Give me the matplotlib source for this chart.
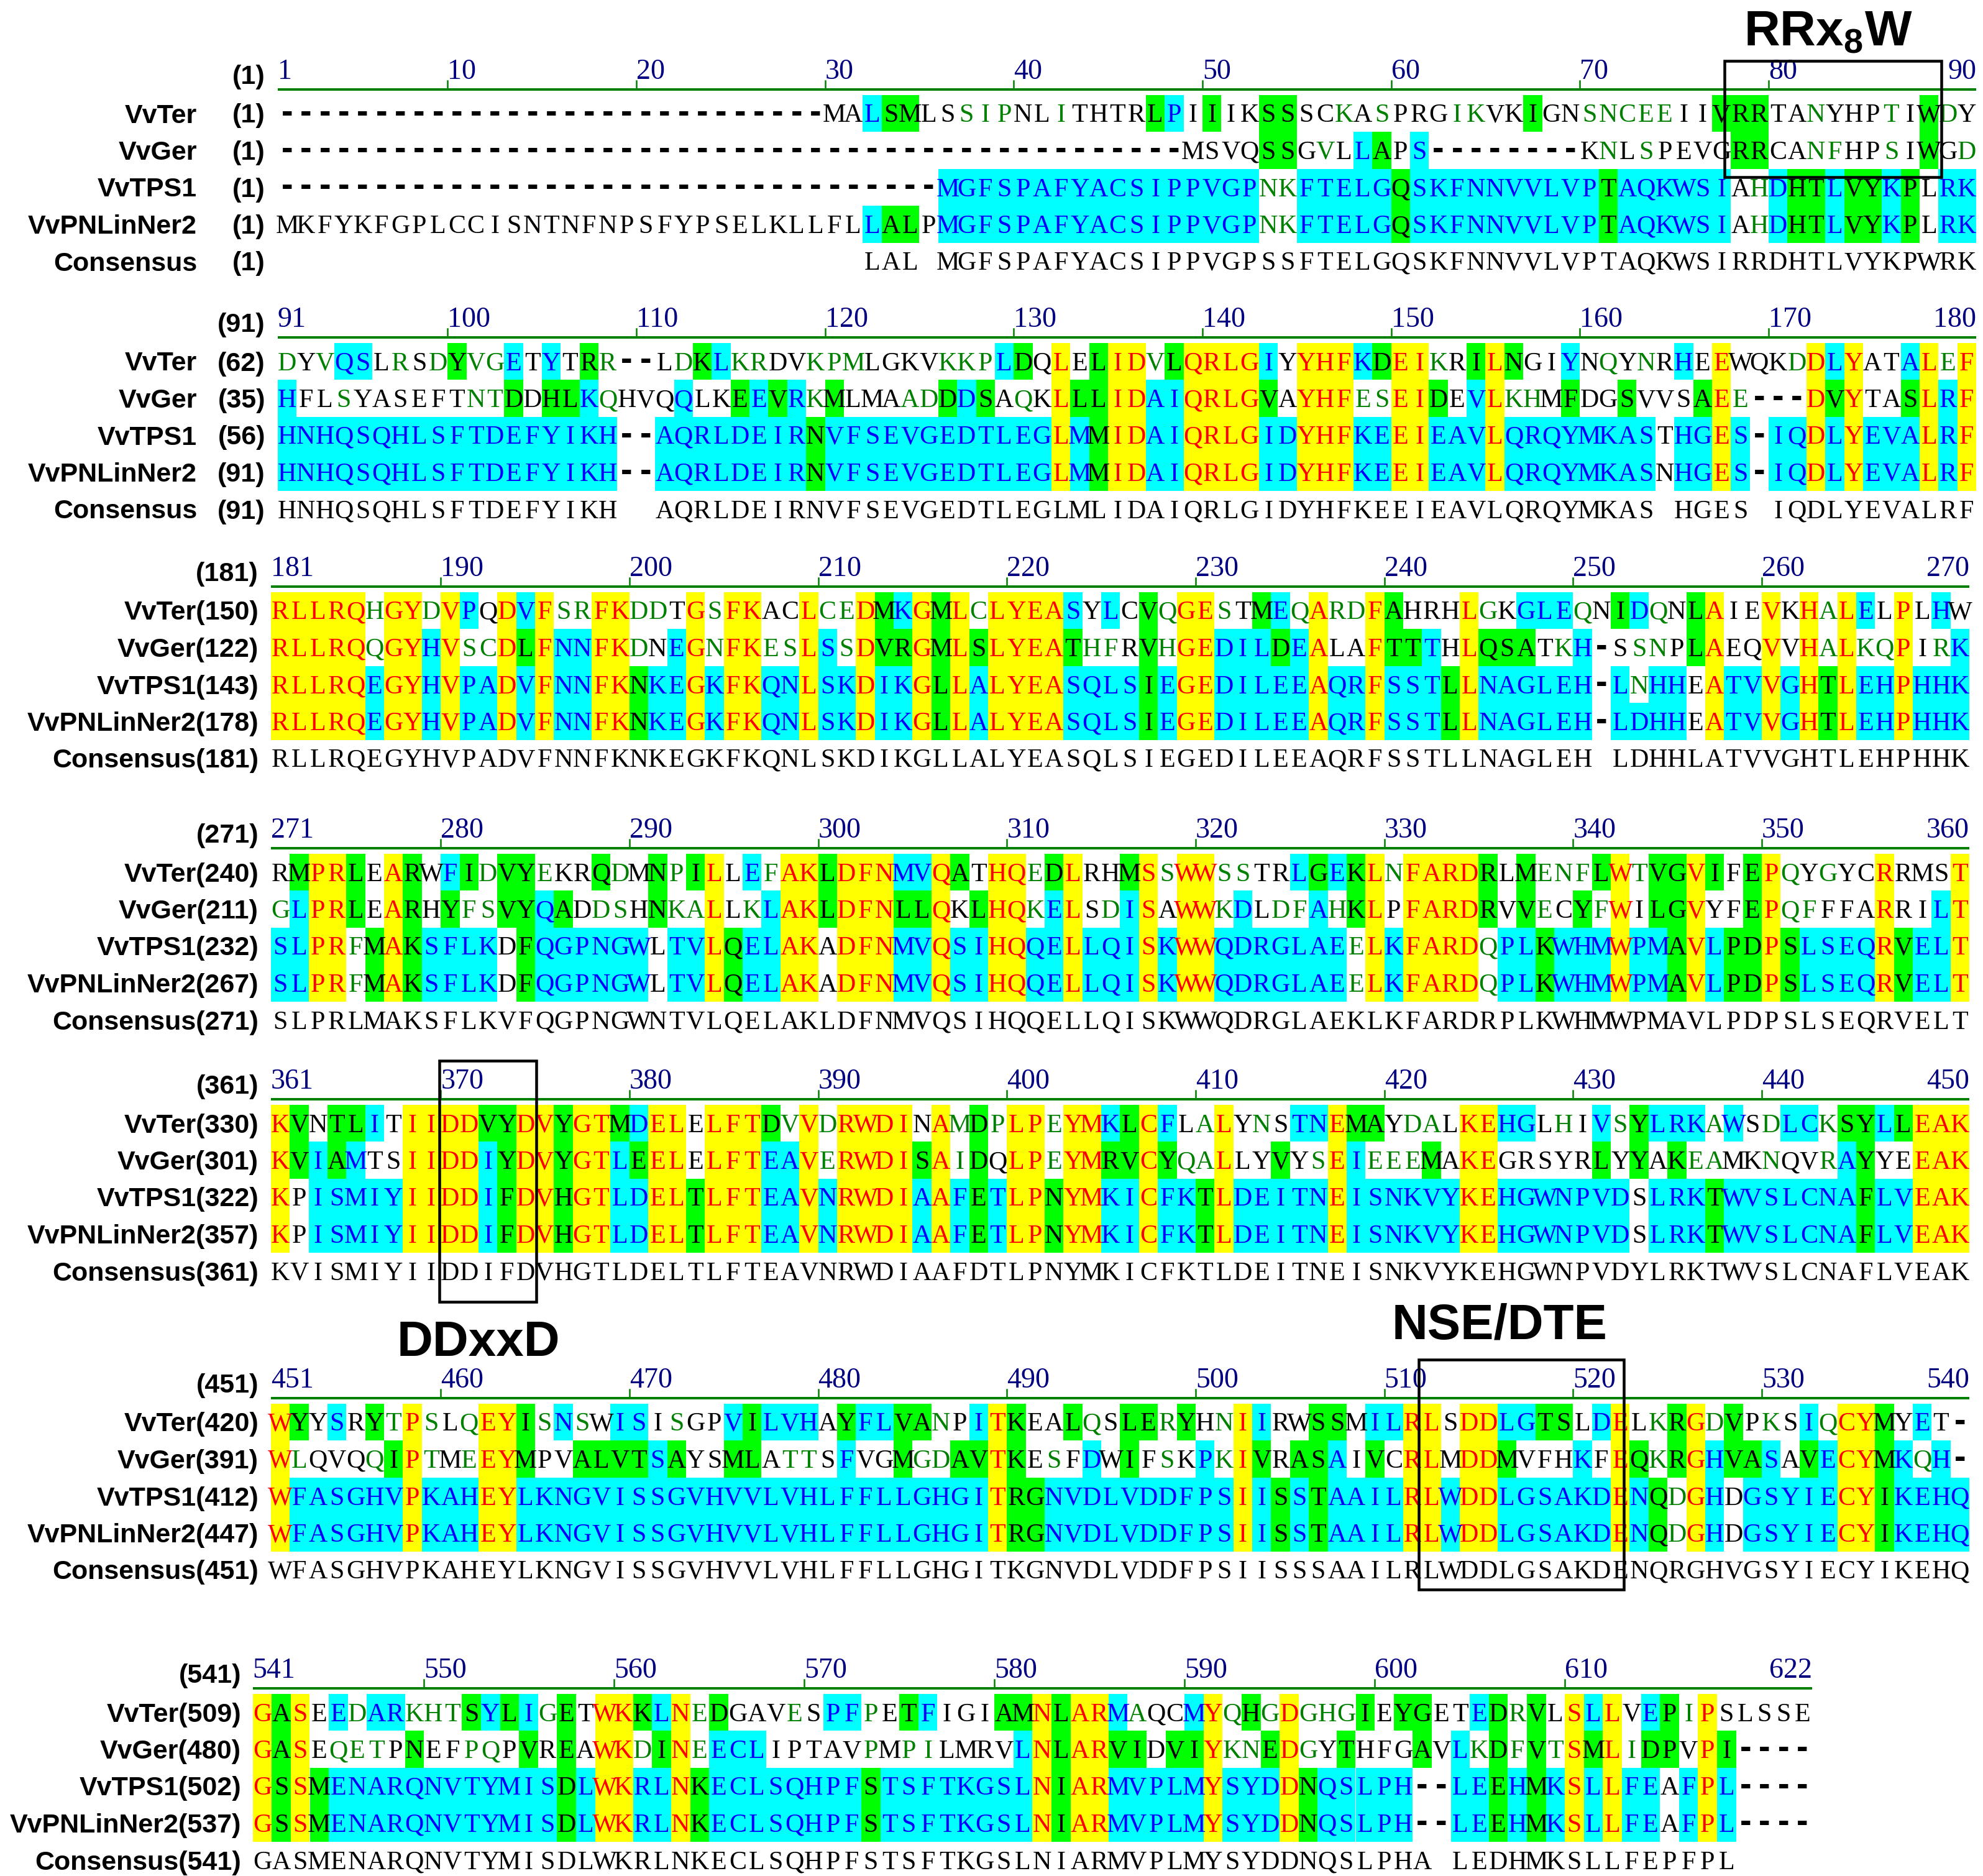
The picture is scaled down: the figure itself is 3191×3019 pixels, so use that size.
import matplotlib
matplotlib.use("Agg")
import matplotlib.pyplot as plt
from matplotlib import font_manager
from matplotlib.font_manager import FontProperties
from matplotlib.patches import Rectangle

plt.rcParams["mathtext.default"] = "regular"

names = ["VvTer", "VvGer", "VvTPS1", "VvPNLinNer2", "Consensus"]

# alignment, one string per block of 90 columns (last block 82)
vvter = [
    "-" * 29 + "MALSMLSSIPNLITHTRLPIIIKSSSCKASPRGIKVKIGNSNCEEIIVRRTANYHPTIWDY",
    "DYVQSLRSDYVGETYTRR--LDKLKRDVKPMLGKVKKPLDQLELIDVLQRLGIYYHFKDEIKRILNGIYNQYNRHEEWQKDDLYATALEF",
    "RLLRQHGYDVPQDVFSRFKDDTGSFKACLCEDMKGMLCLYEASYLCVQGESTMEQARDFAHRHLGKGLEQNIDQNLAIEVKHALELPLHW",
    "RMPRLEARWFIDVYEKRQDMNPILLEFAKLDFNMVQATHQEDLRHMSSWWSSTRLGEKLNFARDRLMENFLWTVGVIFEPQYGYCRRMST",
    "KVNTLITIIDDVYDVYGTMDELELFTDVVDRWDINAMDPLPEYMKLCFLALYNSTNEMAYDALKEHGLHIVSYLRKAWSDLCKSYLLEAK",
    "WYYSRYTPSLQEYISNSWISISGPVILVHAYFLVANPITKEALQSLERYHNIIRWSSMILRLSDDLGTSLDELKRGDVPKSIQCYMYET-",
    "GASEEDARKHTSYLIGETWKKLNEDGAVESPFPETFIGIAMNLARMAQCMYQHGDGHGIEYGETEDRVLSLLVEPIPSLSSE",
]
vvger = [
    "-" * 48 + "MSVQSSGVLLAPS" + "-" * 8 + "KNLSPEVGRRCANFHPSIWGD",
    "HFLSYASEFTNTDDHLKQHVQQLKEEVRKMLMAADDDSAQKLLLIDAIQRLGVAYHFESEIDEVLKHMFDGSVVSAEE---DVYTASLRF",
    "RLLRQQGYHVSCDLFNNFKDNEGNFKESLSSDVRGMLSLYEATHFRVHGEDILDEALAFTTTHLQSATKH-SSNPLAEQVVHALKQPIRK",
    "GLPRLEARHYFSVYQADDSHNKALLKLAKLDFNLLQKLHQKELSDISAWWKDLDFAHKLPFARDRVVECYFWILGVYFEPQFFFARRILT",
    "KVIAMTSIIDDIYDVYGTLEELELFTEAVERWDISAIDQLPEYMRVCYQALLYVYSEIEEEMAKEGRSYRLYYAKEAMKNQVRAYYEEAK",
    "WLQVQQIPTMEEYMPVALVTSAYSMLATTSFVGMGDAVTKESFDWIFSKPKIVRASAIVCRLMDDMVFHKFEQKRGHVASAVECYMKQH-",
    "GASEQETPNEFPQPVREAWKDINEECLIPTAVPMPILMRVLNLARVIDVIYKNEDGYTHFGAVLKDFVTSMLIDPVPI----",
]
vvtps1 = [
    "-" * 35 + "MGFSPAFYACSIPPVGPNKFTELGQSKFNNVVLVPTAQKWSIAHDHTLVYKPLRK",
    "HNHQSQHLSFTDEFYIKH--AQRLDEIRNVFSEVGEDTLEGLMMIDAIQRLGIDYHFKEEIEAVLQRQYMKASTHGES-IQDLYEVALRF",
    "RLLRQEGYHVPADVFNNFKNKEGKFKQNLSKDIKGLLALYEASQLSIEGEDILEEAQRFSSTLLNAGLEH-LNHHEATVVGHTLEHPHHK",
    "SLPRFMAKSFLKDFQGPNGWLTVLQELAKADFNMVQSIHQQELLQISKWWQDRGLAEELKFARDQPLKWHMWPMAVLPDPSLSEQRVELT",
    "KPISMIYIIDDIFDVHGTLDELTLFTEAVNRWDIAAFETLPNYMKICFKTLDEITNEISNKVYKEHGWNPVDSLRKTWVSLCNAFLVEAK",
    "WFASGHVPKAHEYLKNGVISSGVHVVLVHLFFLLGHGITRGNVDLVDDFPSIISSTAAILRLWDDLGSAKDENQDGHDGSYIECYIKEHQ",
    "GSSMENARQNVTYMISDLWKRLNKECLSQHPFSTSFTKGSLNIARMVPLMYSYDDNQSLPH--LEEHMKSLLFEAFPL----",
]
vvpnlinner2 = [
    "MKFYKFGPLCCISNTNFNPSFYPSELKLLFLLALPMGFSPAFYACSIPPVGPNKFTELGQSKFNNVVLVPTAQKWSIAHDHTLVYKPLRK",
    "HNHQSQHLSFTDEFYIKH--AQRLDEIRNVFSEVGEDTLEGLMMIDAIQRLGIDYHFKEEIEAVLQRQYMKASNHGES-IQDLYEVALRF",
    "RLLRQEGYHVPADVFNNFKNKEGKFKQNLSKDIKGLLALYEASQLSIEGEDILEEAQRFSSTLLNAGLEH-LDHHEATVVGHTLEHPHHK",
    "SLPRFMAKSFLKDFQGPNGWLTVLQELAKADFNMVQSIHQQELLQISKWWQDRGLAEELKFARDQPLKWHMWPMAVLPDPSLSEQRVELT",
    "KPISMIYIIDDIFDVHGTLDELTLFTEAVNRWDIAAFETLPNYMKICFKTLDEITNEISNKVYKEHGWNPVDSLRKTWVSLCNAFLVEAK",
    "WFASGHVPKAHEYLKNGVISSGVHVVLVHLFFLLGHGITRGNVDLVDDFPSIISSTAAILRLWDDLGSAKDENQDGHDGSYIECYIKEHQ",
    "GSSMENARQNVTYMISDLWKRLNKECLSQHPFSTSFTKGSLNIARMVPLMYSYDDNQSLPH--LEEHMKSLLFEAFPL----",
]
consensus = [
    " " * 31 + "LAL MGFSPAFYACSIPPVGPSSFTELGQSKFNNVVLVPTAQKWSIRRDHTLVYKPWRK",
    "HNHQSQHLSFTDEFYIKH  AQRLDEIRNVFSEVGEDTLEGLMLIDAIQRLGIDYHFKEEIEAVLQRQYMKAS HGES IQDLYEVALRF",
    "RLLRQEGYHVPADVFNNFKNKEGKFKQNLSKDIKGLLALYEASQLSIEGEDILEEAQRFSSTLLNAGLEH LDHHLATVVGHTLEHPHHK",
    "SLPRLMAKSFLKVFQGPNGWNTVLQELAKLDFNMVQSIHQQELLQISKWWQDRGLAEKLKFARDRPLKWHMWPMAVLPDPSLSEQRVELT",
    "KVISMIYIIDDIFDVHGTLDELTLFTEAVNRWDIAAFDTLPNYMKICFKTLDEITNEISNKVYKEHGWNPVDYLRKTWVSLCNAFLVEAK",
    "WFASGHVPKAHEYLKNGVISSGVHVVLVHLFFLLGHGITKGNVDLVDDFPSIISSSAAILRLWDDLGSAKDENQRGHVGSYIECYIKEHQ",
    "GASMENARQNVTYMISDLWKRLNKECLSQHPFSTSFTKGSLNIARMVPLMYSYDDNQSLPHA LEDHMKSLLFEPFPL",
]

# shading class of every residue
# Y identical, C conserved, G similar block, W weakly similar, K not similar
shade_vvter = [
    "-" * 29 + "KKCGGKKWWW" + "KKWKKKKGCK" + "GKKGGKKWKW" + "KKKWWKKGKK" + "WWWWWKKGGG" + "KKWKKKWKGWK",
    "WKWCCKWKWG" + "WWCKCKGW--" + "KWGCWWKKWW" + "WKKKKWWWCG" + "KYKGYYWGYY"
    + "YYCKYYYCGY" + "YWKGYGKKCK" + "WKWKCKYKKK" + "WYCYKKCYWY",
    "YYYYYWYYWY" + "CKYCYWWYYW" + "WKYWYYKKYW" + "WYGCYGYWYY" + "YYCKCKGWYY"
    + "WKGCWYWWYG" + "KKKYWKCCCW" + "KGCWKGYKKY" + "KYWYCKYKCK",
    "KGYYGKYGKC" + "GWGGWKKGWK" + "GWGYKCWYYG" + "YYYCCYGKYY" + "WGYKKGYWYY"
    + "WWKKCGCGYW" + "YYYYGKGWWW" + "GYWGGYGKGY" + "WKWKKYKKKY",
    "YGKGGCKYYY" + "YGGYYGYYGC" + "YYKYYYGWYW" + "YYYYKYWGWY" + "YWYYCGYCKW"
    + "YKWKCCYGGK" + "WWKYYCCKWK" + "CWGCCCWCKW" + "CCWGGCGYYY",
    "YGKCKGWYWK" + "WYYGWCWKCC" + "KWKKCGCCCK" + "GCCGGWKCYG" + "KKGWKGGWGK"
    + "WYCKKGGKCC" + "YYKYYCCGGK" + "CYKWGYWGKW" + "KCWYYGKCK-",
    "YGYKCWCCWW" + "WGCGCWGKYY" + "GCYWGKKKWK" + "CCWKGCKKKG" + "GYGYYCWKKC"
    + "YWGWYWWWGK" + "GGKKCGWGKY" + "CYKCGWYKKKKK",
]
shade_vvger = [
    "-" * 48 + "KKKKGGKWKCGKC" + "-" * 8 + "KWKWKKKKGGKKWWKKWKGKW",
    "CKKWKKKKKK" + "WWGKGGCWKK" + "KCKKGCGCWG" + "KKKWWGCGKW" + "KYGGYYCCYY"
    + "YYGKYYYWWY" + "YGKCYWWKGK" + "KGKKKGYW--" + "-YGYKKGYCY",
    "YYYYYWYYCY" + "WWYGYCCYYW" + "KCYWYYWWYC" + "WYGGYGYGYY" + "YYGWWKGWYY"
    + "CCCGCYKKYG" + "GCKYGGGKWC" + "-KWWKGYKKY" + "KYWYWWYKWC",
    "WCYYGKYGKG" + "WWGGCGKWWK" + "GWWYKWCYYG" + "YYYGGYKGYY" + "WCYKWCYKYY"
    + "WCKWWCWGYK" + "YYYYGKGWKG" + "WYKGGYKKGY" + "WWKKKYKKCY",
    "YGCGCKKYYY" + "YCGYYGYYCG" + "YYKYYYCCYW" + "YYYYGYWGKY" + "YWYYGGYGWW"
    + "YKKGKWYCWW" + "WGKYYKKKKK" + "GKGKGWWKKW" + "KKWCGKKYYY",
    "YWKKKWGYWK" + "WYYGKKGGGG" + "CGKKGGKWWK" + "CKKGWWGGYG" + "KWKCKGKWKC"
    + "WYGKGGCKGK" + "YYKYYGKKKC" + "KYGWGYCGGC" + "KGCYYGCWC-",
    "YGYKWWWKGK" + "KWWKGKGKYY" + "WGYWCCCKKK" + "KKWKWWKKKK" + "CYGYYGGKGG"
    + "YWWGYWKGKK" + "KGKCWGWGWY" + "GYWGGKYG----",
]
shade_vvtps1 = [
    "-" * 35 + "CCCCCCCCCCCCCCCCC" + "WW" + "CCCCC" + "G" + "CCCCCCCCCC" + "G"
    + "CCCCCC" + "K" + "W" + "C" + "GG" + "C" + "GG" + "C" + "G" + "K" + "CC",
    "CCCCCCCCCC" + "CCCCCCCC--" + "CCCCCCCCGC" + "CCCCCCCCCC" + "CYCGYYCCYY"
    + "YYCCYYYCCY" + "YCCCYCCCCC" + "CCCKCCYC-C" + "CYCYCCCYCY",
    "YYYYYCYYCY" + "CCYCYCCYYG" + "CCYCYYCCYC" + "CYCCYGYCYY" + "YYCCCCGCYY"
    + "CCCCCYCCYC" + "CCGYCCCCCC" + "-CWCCKYCCY" + "CYGYCCYCCC",
    "CCYYWGYGCC" + "CCKGCCCCCC" + "KCCYGCCYYK" + "YYYCCYCCYY" + "CCYCCCYCYY"
    + "CCCCCCCWYC" + "YYYYWCCGCC" + "CYCCGYCGGY" + "GCCCCYGCCY",
    "YKCCCCCYYY" + "YCGYYGYYCC" + "YYGYYYCCYC" + "YYYYCYCGCY" + "YGYYCCYCCG"
    + "YCCCCCYCCC" + "CCCYYCCCCC" + "CCKCCCGCCC" + "CCCCGCCYYY",
    "YCCCCCCYCC" + "CYYCCCCCCC" + "CCCCCCCCCC" + "CCCCCCCCYG" + "GCCCCCCCCC"
    + "CYCGCGCCCC" + "YYCYYCCCCC" + "CYCGWYCKCC" + "CCCYYGCCCC",
    "YGYGCCCCCC" + "CCCCCCGCYY" + "CCYGCCCCCC" + "CCGCCCCCCC" + "CYGYYCCCCC"
    + "YCCCYGCCCC" + "C--CCGCGCY" + "CYCCKCYC----",
]
shade_vvpnlinner2 = [
    "K" * 31 + "CGGK" + "CCCCCCCCCCCCCCCCC" + "WW" + "CCCCC" + "G" + "CCCCCCCCCC" + "G"
    + "CCCCCC" + "K" + "W" + "C" + "GG" + "C" + "GG" + "C" + "G" + "K" + "CC",
    "CCCCCCCCCC" + "CCCCCCCC--" + "CCCCCCCCGC" + "CCCCCCCCCC" + "CYCGYYCCYY"
    + "YYCCYYYCCY" + "YCCCYCCCCC" + "CCCKCCYC-C" + "CYCYCCCYCY",
    "YYYYYCYYCY" + "CCYCYCCYYG" + "CCYCYYCCYC" + "CYCCYGYCYY" + "YYCCCCGCYY"
    + "CCCCCYCCYC" + "CCGYCCCCCC" + "-CCCCKYCCY" + "CYGYCCYCCC",
    "CCYYWGYGCC" + "CCKGCCCCCC" + "KCCYGCCYYK" + "YYYCCYCCYY" + "CCYCCCYCYY"
    + "CCCCCCCWYC" + "YYYYWCCGCC" + "CYCCGYCGGY" + "GCCCCYGCCY",
    "YKCCCCCYYY" + "YCGYYGYYCC" + "YYGYYYCCYC" + "YYYYCYCGCY" + "YGYYCCYCCG"
    + "YCCCCCYCCC" + "CCCYYCCCCC" + "CCKCCCGCCC" + "CCCCGCCYYY",
    "YCCCCCCYCC" + "CYYCCCCCCC" + "CCCCCCCCCC" + "CCCCCCCCYG" + "GCCCCCCCCC"
    + "CYCGCGCCCC" + "YYCYYCCCCC" + "CYCGWYCKCC" + "CCCYYGCCCC",
    "YGYGCCCCCC" + "CCCCCCGCYY" + "CCYGCCCCCC" + "CCGCCCCCCC" + "CYGYYCCCCC"
    + "YCCCYGCCCC" + "C--CCGCGCY" + "CYCCKCYC----",
]

# residue number at the start of each row
start_vvter = [1, 62, 150, 240, 330, 420, 509]
start_vvger = [1, 35, 122, 211, 301, 391, 480]
start_vvtps1 = [1, 56, 143, 232, 322, 412, 502]
start_vvpnlinner2 = [1, 91, 178, 267, 357, 447, 537]
start_consensus = [1, 91, 181, 271, 361, 451, 541]
block_first = [1, 91, 181, 271, 361, 451, 541]
block_last = [90, 180, 270, 360, 450, 540, 622]

motif_labels = ["RRx$_8$W", "DDxxD", "NSE/DTE"]

# ---------------- layout (pixels) ----------------
W, H, DPI = 3191, 3019, 100
CW = [30.37, 30.37, 30.37, 30.37, 30.37, 30.37, 30.6]
X0 = [462, 462, 451, 451, 451, 451, 422]
LINE_Y = [144, 543, 944, 1365, 1769, 2250, 2717]
LAB_R = [427, 427, 416, 416, 416, 416, 388]
NAME_R = 317
RH = 59.5
ROW0 = 38.5

BG = {"Y": "#ffff00", "C": "#00ffff", "G": "#00ff00"}
FG = {"Y": "#ff0000", "C": "#0000ff", "G": "#000000", "W": "#008000", "K": "#000000"}
NAVY = "#000080"
LINE_GREEN = "#008000"

installed = {f.name for f in font_manager.fontManager.ttflist}


def pick(*families):
    for fam in families:
        if fam in installed:
            return fam
    return "DejaVu Sans"


SEQ_FONT = pick("Liberation Serif", "DejaVu Serif")
LAB_FONT = pick("Liberation Sans", "DejaVu Sans")


def pt(pixels):
    return pixels * 72.0 / DPI


seq_fp = FontProperties(family=SEQ_FONT, size=pt(42))
num_fp = FontProperties(family=SEQ_FONT, size=pt(46))
lab_fp = FontProperties(family=LAB_FONT, weight="bold", size=pt(43))
gap_fp = FontProperties(family=LAB_FONT, weight="bold", size=pt(56))
motif_fp = FontProperties(family=LAB_FONT, weight="bold", size=pt(80))

rows = [
    (names[0], vvter, shade_vvter, start_vvter),
    (names[1], vvger, shade_vvger, start_vvger),
    (names[2], vvtps1, shade_vvtps1, start_vvtps1),
    (names[3], vvpnlinner2, shade_vvpnlinner2, start_vvpnlinner2),
    (names[4], consensus, None, start_consensus),
]

for b in range(7):
    n = block_last[b] - block_first[b] + 1
    for _, seqs, shades, _ in rows[:4]:
        assert len(seqs[b]) == n, (b, seqs[b])
        assert len(shades[b]) == n, (b, shades[b])


def row_y(b, r):
    return LINE_Y[b] + ROW0 + r * RH


def col_x(b, k):
    return X0[b] + (k - 1) * CW[b]


fig = plt.figure(figsize=(W / DPI, H / DPI), dpi=DPI)
ax = fig.add_axes([0, 0, 1, 1])
ax.set_xlim(0, W)
ax.set_ylim(H, 0)
ax.axis("off")

cells = {c: ([], [], []) for c in BG}

for b in range(7):
    cw, ly = CW[b], LINE_Y[b]
    first, last = block_first[b], block_last[b]
    n = last - first + 1
    left, right = col_x(b, 1) - cw / 2, col_x(b, n) + cw / 2

    # ruler
    ax.plot([left, right], [ly, ly], color=LINE_GREEN, lw=pt(4), solid_capstyle="butt")
    ax.text(left, ly - 17, str(first), fontproperties=num_fp, color=NAVY, ha="left", va="baseline")
    for v in range((first // 10 + 1) * 10, last, 10):
        if last - v < 5:
            continue
        xe = col_x(b, v - first + 1) - cw / 2
        ax.plot([xe, xe], [ly - 14, ly], color=LINE_GREEN, lw=pt(2.5))
        ax.text(xe, ly - 17, str(v), fontproperties=num_fp, color=NAVY, ha="left", va="baseline")
    ax.text(right, ly - 17, str(last), fontproperties=num_fp, color=NAVY, ha="right", va="baseline")
    ax.text(LAB_R[b], ly - 9, "(%d)" % first, fontproperties=lab_fp, ha="right", va="baseline")

    # identical columns
    same = []
    for i in range(n):
        col = {seqs[b][i] for _, seqs, _, _ in rows[:4]}
        same.append(len(col) == 1 and "-" not in col)

    for r, (name, seqs, shades, starts) in enumerate(rows):
        y = row_y(b, r)
        if b < 2:
            ax.text(NAME_R, y + 15, name, fontproperties=lab_fp, ha="right", va="baseline")
            ax.text(LAB_R[b], y + 15, "(%d)" % starts[b], fontproperties=lab_fp, ha="right", va="baseline")
        else:
            ax.text(LAB_R[b], y + 15, "%s(%d)" % (name, starts[b]), fontproperties=lab_fp,
                    ha="right", va="baseline")
        seq = seqs[b]
        for i, ch in enumerate(seq):
            if ch == " ":
                continue
            x = col_x(b, i + 1)
            if ch == "-":
                ax.text(x, y + 14, "-", fontproperties=gap_fp, color="black", ha="center", va="baseline")
                continue
            code = "K"
            if shades is not None:
                code = "Y" if same[i] else shades[b][i]
            if code in BG:
                xs, ys, ws = cells[code]
                xs.append(x)
                ys.append(y - RH / 2)
                ws.append(cw)
            ax.text(x, y + 14, ch, fontproperties=seq_fp, color=FG[code], ha="center", va="baseline")

for code, (xs, ys, ws) in cells.items():
    ax.bar(xs, RH, width=ws, bottom=ys, color=BG[code], linewidth=0, antialiased=False, zorder=0)

# motif boxes and labels
boxes = [
    (0, 77.16, 88.65, LINE_Y[0] - 46, row_y(0, 1) + 43),
    (4, 9.42, 14.55, LINE_Y[4] - 62, row_y(4, 4) + 49.5),
    (5, 61.32, 72.19, LINE_Y[5] - 62, row_y(5, 4) + 31.5),
]
for b, k0, k1, top, bottom in boxes:
    x_left, x_right = col_x(b, k0), col_x(b, k1)
    ax.add_patch(Rectangle((x_left, top), x_right - x_left, bottom - top, fill=False,
                           edgecolor="black", linewidth=pt(4.5), zorder=5))

label_pos = [(0, 82.66, LINE_Y[0] - 71), (4, 11.5, row_y(4, 4) + 136), (5, 65.6, LINE_Y[5] - 96)]
for text, (b, k, yb) in zip(motif_labels, label_pos):
    ax.text(col_x(b, k), yb, text, fontproperties=motif_fp, ha="center", va="baseline", zorder=6)

fig.savefig("out.png", dpi=DPI, facecolor="white")
